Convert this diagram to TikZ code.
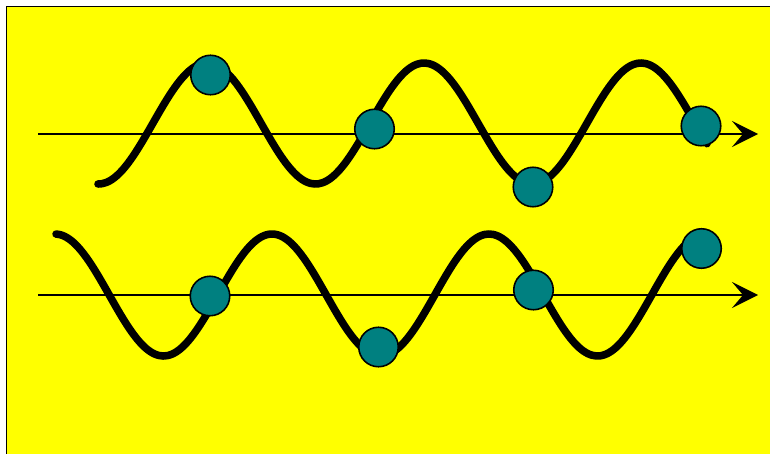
\documentclass[tikz,border=0pt]{standalone}
\usepackage{xcolor}
\usetikzlibrary{arrows.meta}
\definecolor{slideyellow}{RGB}{255,255,0}
\definecolor{beadteal}{RGB}{0,128,128}

\begin{document}
\begin{tikzpicture}[x=0.02cm, y=-0.02cm,
    axis/.style={line width=1.1pt, -{Stealth[length=0.52cm, width=0.52cm, inset=0.22cm]}},
    wave/.style={line width=4.3pt, line cap=round, line join=round},
    bead/.style={circle, draw=black, line width=0.9pt, fill=beadteal,
                 minimum size=0.79cm, inner sep=0pt}]

\useasboundingbox (0,0) rectangle (770,453);
\clip (0,0) rectangle (770,453);

%% ── BACKGROUND PANEL ─────────────────────────────────────────────────────────
\draw[fill=slideyellow, line width=1.1pt] (6.5,6.5) rectangle (790,470);

%% ── TOP ROW ──────────────────────────────────────────────────────────────────
\coordinate (top-start) at (38,134);
\coordinate (top-end)   at (758,134);
\draw[axis] (top-start) -- (top-end);

% wave starts in a trough (half period 108.5, 180/108.5 = 1.659)
\draw[wave] plot[domain=98:707, samples=150, smooth]
  (\x, {123.5 - 60.5*sin(1.659*(\x-152.75))});

\node[bead] (top-a) at (210.5,75)  {};
\node[bead] (top-b) at (374.5,129) {};
\node[bead] (top-c) at (533,187)   {};
\node[bead] (top-d) at (701,126)   {};

%% ── BOTTOM ROW ───────────────────────────────────────────────────────────────
\coordinate (bot-start) at (38,295);
\coordinate (bot-end)   at (758,295);
\draw[axis] (bot-start) -- (bot-end);

% wave starts on a crest
\draw[wave] plot[domain=56:695, samples=150, smooth]
  (\x, {295 - 61*sin(1.659*(\x-0.75))});

\node[bead] (bot-a) at (210,296)     {};
\node[bead] (bot-b) at (378.5,347)   {};
\node[bead] (bot-c) at (533.5,290)   {};
\node[bead] (bot-d) at (701.5,248.5) {};

\end{tikzpicture}
\end{document}
